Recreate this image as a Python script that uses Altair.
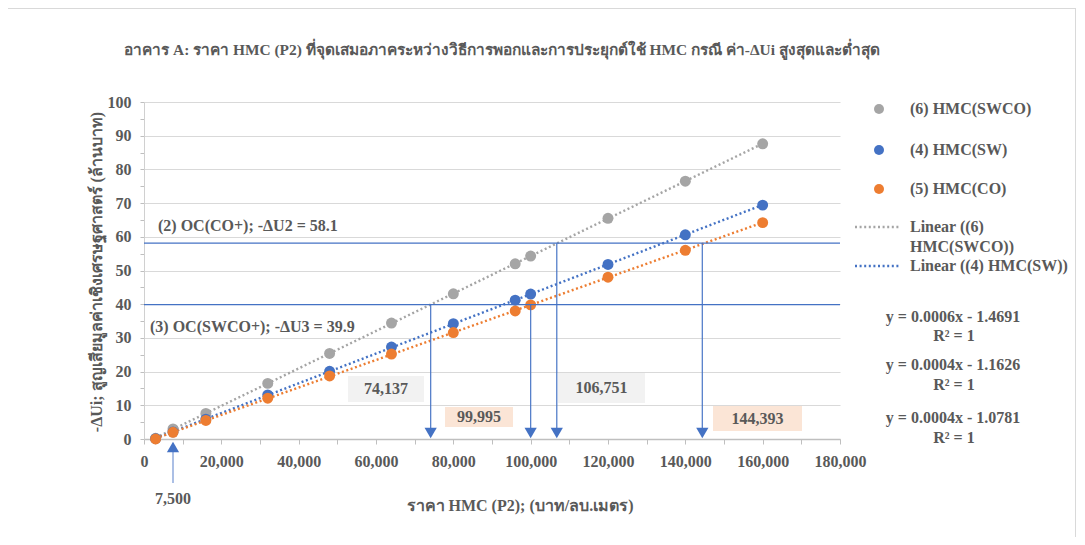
import altair as alt
import pandas as pd

# ---------------- data ----------------
price = [3000, 7500, 16000, 32000, 48000, 64000, 80000, 96000, 100000, 120000, 140000, 160000]
hmc_swco = [0.2, 3.0, 7.6, 16.5, 25.4, 34.4, 43.1, 52.0, 54.3, 65.5, 76.5, 87.6]
hmc_sw = [0.1, 2.1, 5.9, 13.1, 20.1, 27.3, 34.2, 41.2, 43.0, 51.8, 60.6, 69.4]
hmc_co = [0.0, 2.0, 5.5, 12.1, 18.7, 25.2, 31.6, 38.0, 39.8, 48.0, 56.0, 64.2]
series_names = ["(6) HMC(SWCO)", "(4) HMC(SW)", "(5) HMC(CO)"]
trend_series = ["(6) HMC(SWCO)", "(4) HMC(SW)", "(5) HMC(CO)"]
oc_levels = [58.1, 39.9]
oc_labels = ["(2) OC(CO+); -ΔU2 = 58.1", "(3) OC(SWCO+); -ΔU3 = 39.9"]
breakeven_x = [74137, 99995, 106751, 144393]
breakeven_y = [39.9, 39.9, 58.1, 58.1]
breakeven_labels = ["74,137", "99,995", "106,751", "144,393"]
marker_x = [7500]
marker_labels = ["7,500"]
legend_lines = ["Linear ((6)", "HMC(SWCO))", "Linear ((4) HMC(SW))"]
equations = ["y = 0.0006x - 1.4691", "y = 0.0004x - 1.1626", "y = 0.0004x - 1.0781"]
r2_label = "R² = 1"
title_text = "อาคาร A: ราคา HMC (P2) ที่จุดเสมอภาคระหว่างวิธีการพอกและการประยุกต์ใช้ HMC กรณี ค่า-ΔUi สูงสุดและต่ำสุด"
x_title = "ราคา HMC (P2); (บาท/ลบ.เมตร)"
y_title = "-ΔUi; สูญเสียมูลค่าเชิงเศรษฐศาสตร์ (ล้านบาท)"

# ---------------- styling ----------------
W, H = 696, 337
FONT = "Liberation Serif"
TXT = "#595959"
GRAY, BLUE, ORANGE = "#A5A5A5", "#4472C4", "#ED7D31"
colors = [GRAY, BLUE, ORANGE]

df = pd.DataFrame({
    "price": price * 3,
    "value": hmc_swco + hmc_sw + hmc_co,
    "series": [n for n in series_names for _ in price],
})

xs = alt.Scale(domain=[0, 180000], nice=False, zero=False)
ys = alt.Scale(domain=[0, 100], nice=False)
cs = alt.Scale(domain=series_names, range=colors)

x_axis = alt.Axis(
    values=list(range(0, 180001, 10000)),
    labelExpr="datum.value % 20000 === 0 ? format(datum.value, ',') : ''",
    title=None, grid=False, tickSize=5, tickColor="#BFBFBF",
    domainColor="#BFBFBF", domainWidth=1.5,
    labelFont=FONT, labelFontSize=16, labelFontWeight="bold", labelColor=TXT,
    labelPadding=9, labelFlush=False, labelOverlap=False,
)
y_axis = alt.Axis(
    values=list(range(0, 101, 5)),
    labelExpr="datum.value % 10 === 0 ? datum.label : ''",
    title=None, grid=True, gridColor="#D9D9D9",
    gridOpacity={"condition": {"test": "datum.value % 10 === 0", "value": 1}, "value": 0},
    tickSize=4, tickColor="#BFBFBF", domainColor="#D0D0D0",
    labelFont=FONT, labelFontSize=16, labelFontWeight="bold", labelColor=TXT,
    labelPadding=9, labelOverlap=False,
)


def X(field):
    return alt.X(field, scale=xs, axis=x_axis)


def Y(field):
    return alt.Y(field, scale=ys, axis=y_axis)


layers = []

# trend lines (Excel linear trendlines)
trend = alt.Chart(df[df["series"].isin(trend_series)]).transform_regression(
    "price", "value", groupby=["series"]
).mark_line(strokeDash=[2, 2.6], strokeWidth=2.4).encode(
    x=X("price:Q"), y=Y("value:Q"),
    color=alt.Color("series:N", scale=cs, legend=None),
)
layers.append(trend)

# scatter points
pts = alt.Chart(df).mark_circle(size=120, opacity=1).encode(
    x=X("price:Q"), y=Y("value:Q"),
    color=alt.Color("series:N", scale=cs, legend=None),
)
layers.append(pts)

# horizontal OC lines
oc_df = pd.DataFrame({"level": oc_levels})
layers.append(alt.Chart(oc_df).mark_rule(color=BLUE, strokeWidth=1.3).encode(
    y=Y("level:Q")))

# vertical arrows at break-even prices
be_df = pd.DataFrame({"x": breakeven_x, "y": breakeven_y, "label": breakeven_labels})
layers.append(alt.Chart(be_df).mark_rule(color=BLUE, strokeWidth=1.3, opacity=0.9).encode(
    x=X("x:Q"), y=Y("y:Q"), y2=alt.value(326),
))
layers.append(alt.Chart(be_df).mark_point(shape="triangle-down", filled=True, size=150,
                                          color=BLUE, opacity=1).encode(
    x=X("x:Q"), y=alt.value(331)))

# 7,500 marker arrow under the axis
mk_df = pd.DataFrame({"x": marker_x, "label": marker_labels})
layers.append(alt.Chart(mk_df).mark_rule(color="#8FAADC", strokeWidth=1.5).encode(
    x=X("x:Q"), y=alt.value(350), y2=alt.value(381)))
layers.append(alt.Chart(mk_df).mark_point(shape="triangle-up", filled=True, size=150,
                                          color=BLUE, opacity=1).encode(
    x=X("x:Q"), y=alt.value(345)))
layers.append(alt.Chart(mk_df).mark_text(font=FONT, fontSize=16, fontWeight="bold",
                                         color=TXT, baseline="middle").encode(
    x=X("x:Q"), y=alt.value(397), text="label:N"))


def txt(s, x, y, size=16, align="left", angle=0, weight="bold"):
    d = pd.DataFrame({"t": [s]})
    kw = dict(font=FONT, fontSize=size, fontWeight=weight, color=TXT,
              align=align, baseline="middle")
    if angle:
        kw["angle"] = angle
    return alt.Chart(d).mark_text(**kw).encode(
        x=alt.value(x), y=alt.value(y), text="t:N")


def box(x1, x2, y1, y2, fill):
    d = pd.DataFrame({"t": [""]})
    return alt.Chart(d).mark_rect(fill=fill).encode(
        x=alt.value(x1), x2=alt.value(x2), y=alt.value(y1), y2=alt.value(y2))


# label boxes for break-even values
box_layout = [
    (204, 280, 274, 300, "#F2F2F2"),
    (301, 369, 305, 325, "#FBE5D6"),
    (414, 501, 271, 301, "#F2F2F2"),
    (569, 658, 304, 329, "#FBE5D6"),
]
for lab, (x1, x2, y1, y2, f) in zip(breakeven_labels, box_layout):
    layers.append(box(x1, x2, y1, y2, f))
    layers.append(txt(lab, (x1 + x2) / 2, (y1 + y2) / 2, align="center"))

# OC line labels
layers.append(txt(oc_labels[0], 14, 124))
layers.append(txt(oc_labels[1], 6, 225))

# titles
layers.append(txt(title_text, 358, -52, size=15.4, align="center"))
layers.append(txt(x_title, 376, 404, size=16, align="center"))
layers.append(txt(y_title, -47, 170, size=16, align="center", angle=270))

# manual legend
leg_y = [7, 48, 87]
for name, col, yy in zip(series_names, colors, leg_y):
    d = pd.DataFrame({"t": [name]})
    layers.append(alt.Chart(d).mark_circle(size=100, color=col, opacity=1).encode(
        x=alt.value(735), y=alt.value(yy)))
    layers.append(txt(name, 766, yy))
for col, yy in [(GRAY, 125), (BLUE, 164)]:
    d = pd.DataFrame({"t": [""]})
    layers.append(alt.Chart(d).mark_rule(color=col, strokeDash=[2, 2.6], strokeWidth=2.4).encode(
        x=alt.value(711), x2=alt.value(756), y=alt.value(yy)))
layers.append(txt(legend_lines[0], 766, 125))
layers.append(txt(legend_lines[1], 766, 145))
layers.append(txt(legend_lines[2], 766, 164))

# trendline equations
for eq, (ye, yr) in zip(equations, [(215, 234), (263, 283), (316, 336)]):
    layers.append(txt(eq, 809, ye, align="center"))
    layers.append(txt(r2_label, 810, yr, align="center"))

# chart area border (top + right)
d0 = pd.DataFrame({"t": [""]})
layers.append(alt.Chart(d0).mark_rule(color="#D9D9D9", strokeWidth=1).encode(
    x=alt.value(-136), x2=alt.value(932), y=alt.value(-93.5)))
layers.append(alt.Chart(d0).mark_rule(color="#D9D9D9", strokeWidth=1).encode(
    x=alt.value(931.5), y=alt.value(-94), y2=alt.value(435)))

chart = alt.layer(*layers).properties(
    width=W, height=H,
    autosize=alt.AutoSizeParams(type="none"),
    padding={"left": 136, "top": 94, "right": 237, "bottom": 98},
    background="white",
).configure_view(stroke=None)

chart.save("out.html", embed_options={"renderer": "svg", "actions": False})
